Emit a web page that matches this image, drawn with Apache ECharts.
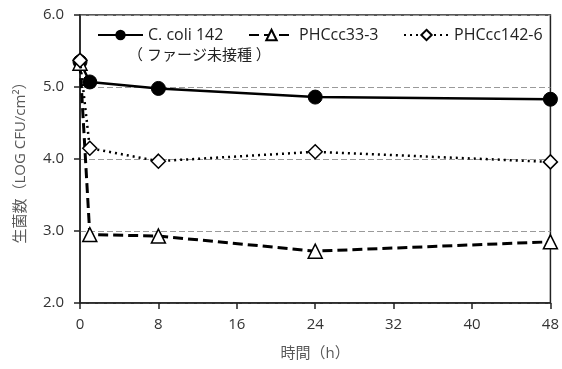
<!DOCTYPE html>
<html>
<head>
<meta charset="utf-8">
<script src="https://cdn.jsdelivr.net/npm/echarts@6/dist/echarts.min.js"></script>
<style>
  html, body { margin: 0; padding: 0; background: #fff; }
  #show_picture { width: 562px; height: 369px; }
</style>
</head>
<body>
<div id="show_picture"></div>
<script>
// time points (h)
const hours = [0, 1, 8, 24, 48];
// log CFU/cm2
const coli142 = [5.35, 5.07, 4.98, 4.86, 4.83];
const phc33 = [5.33, 2.95, 2.93, 2.72, 2.85];
const phc142 = [5.37, 4.15, 3.97, 4.10, 3.96];
const names = ['C. coli 142', 'PHCcc33-3', 'PHCcc142-6'];

const font = '"Open Sans", "Noto Sans CJK JP", sans-serif';

let myChart = echarts.init(document.getElementById('show_picture'));

function pairs(vals) {
    return hours.map((h, i) => [h, vals[i]]);
}

function legendAt(name, left) {
    return {
        data: [name],
        left: left,
        top: 27,
        padding: 0,
        itemWidth: 45,
        itemHeight: 13,
        textStyle: { fontFamily: font, fontSize: 16, color: '#222' }
    };
}

let option = {
    animation: false,
    textStyle: { fontFamily: font },
    grid: {
        left: 80, right: 10, top: 15, bottom: 66,
        show: true, borderColor: '#222', borderWidth: 1.5
    },
    legend: [
        legendAt(names[0], 97),
        legendAt(names[1], 248),
        legendAt(names[2], 403)
    ],
    graphic: [{
        type: 'text',
        left: 128, top: 48,
        style: { text: '（ ファージ未接種 ）', fontFamily: font, fontSize: 15, fill: '#222' }
    }],
    xAxis: {
        type: 'value',
        min: 0, max: 48, interval: 8,
        name: '時間（h）',
        nameLocation: 'middle',
        nameGap: 43,
        nameTextStyle: { fontSize: 15, color: '#595959' },
        axisLine: { lineStyle: { color: '#222', width: 1.5 } },
        axisTick: { length: 6, lineStyle: { color: '#222', width: 1.5 } },
        axisLabel: { fontSize: 15, color: '#333', margin: 14 },
        splitLine: { show: false }
    },
    yAxis: {
        type: 'value',
        min: 2, max: 6, interval: 1,
        name: '生菌数（LOG CFU/cm²）',
        nameLocation: 'middle',
        nameGap: 52,
        nameTextStyle: { fontSize: 15, color: '#595959' },
        axisLine: { show: true, lineStyle: { color: '#222', width: 1.5 } },
        axisTick: { show: true, length: 6, lineStyle: { color: '#222', width: 1.5 } },
        axisLabel: { fontSize: 15, color: '#333', margin: 16, formatter: v => v.toFixed(1) },
        splitLine: { show: true, lineStyle: { color: '#9a9a9a', width: 1, type: [6, 3] } }
    },
    series: [
        {
            name: names[0],
            type: 'line',
            data: pairs(coli142),
            symbol: 'circle',
            symbolSize: 14,
            itemStyle: { color: '#000', borderColor: '#000' },
            lineStyle: { color: '#000', width: 2.5 },
            z: 3
        },
        {
            name: names[1],
            type: 'line',
            data: pairs(phc33),
            symbol: 'triangle',
            symbolSize: 14,
            itemStyle: { color: '#fff', borderColor: '#000', borderWidth: 1.5 },
            lineStyle: { color: '#000', width: 3, type: [10, 5] },
            z: 4
        },
        {
            name: names[2],
            type: 'line',
            data: pairs(phc142),
            symbol: 'diamond',
            symbolSize: 14,
            itemStyle: { color: '#fff', borderColor: '#000', borderWidth: 1.5 },
            lineStyle: { color: '#000', width: 2.5, type: [2, 4] },
            z: 5
        }
    ]
};

option && myChart.setOption(option);
</script>
</body>
</html>
